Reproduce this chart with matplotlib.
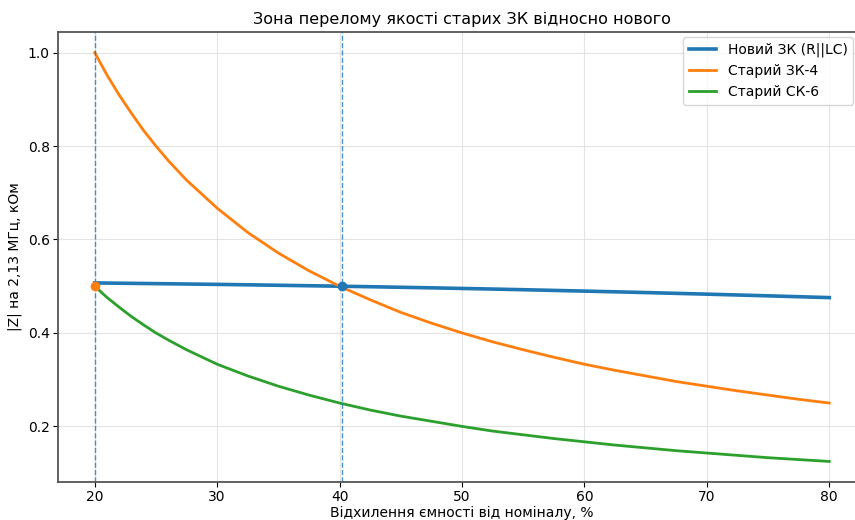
import matplotlib
matplotlib.use("Agg")
import matplotlib.pyplot as plt

# deviation of capacitance from nominal, %
deviation = [20, 21, 22, 23, 24, 25, 26, 27.5, 30, 32.5, 35, 37.5, 40, 42.5, 45,
             47.5, 50, 52.5, 55, 57.5, 60, 62.5, 65, 67.5, 70, 72.5, 75, 77.5, 80]

# |Z| at 2.13 MHz, kOhm
z_new = [0.5070, 0.5067, 0.5064, 0.5061, 0.5058, 0.5055, 0.5052, 0.5047, 0.5039, 0.5030,
         0.5020, 0.5010, 0.5000, 0.4989, 0.4977, 0.4965, 0.4952, 0.4939, 0.4925, 0.4910,
         0.4895, 0.4880, 0.4864, 0.4847, 0.4830, 0.4812, 0.4794, 0.4775, 0.4756]
z_old4 = [1.000, 0.952, 0.909, 0.870, 0.833, 0.800, 0.769, 0.727, 0.667, 0.615,
          0.571, 0.533, 0.500, 0.471, 0.444, 0.421, 0.400, 0.381, 0.364, 0.348,
          0.333, 0.320, 0.308, 0.296, 0.286, 0.276, 0.267, 0.258, 0.250]
z_old6 = [0.500, 0.476, 0.455, 0.435, 0.417, 0.400, 0.385, 0.364, 0.333, 0.308,
          0.286, 0.267, 0.250, 0.235, 0.222, 0.211, 0.200, 0.190, 0.182, 0.174,
          0.167, 0.160, 0.154, 0.148, 0.143, 0.138, 0.133, 0.129, 0.125]

labels = ["Новий ЗК (R||LC)", "Старий ЗК-4", "Старий СК-6"]

# break points
cross_x = [20, 40.2]
cross_y = [0.5, 0.5]

fig = plt.figure(figsize=(8.55, 5.2), dpi=100)
ax = fig.add_axes([58 / 855, 38 / 520, 808 / 855, 450 / 520])

ax.plot(deviation, z_new, color="tab:blue", linewidth=2.6, label=labels[0])
ax.plot(deviation, z_old4, color="tab:orange", linewidth=2.0, label=labels[1])
ax.plot(deviation, z_old6, color="tab:green", linewidth=2.0, label=labels[2])

for xv in cross_x:
    ax.axvline(xv, color="tab:blue", linestyle="--", linewidth=1.0, alpha=0.8)
ax.plot(cross_x[0], cross_y[0], "o", color="tab:orange", markersize=6)
ax.plot(cross_x[1], cross_y[1], "o", color="tab:blue", markersize=6)

ax.set_xlim(17, 83)
ax.set_ylim(0.081, 1.044)
ax.set_xticks([20, 30, 40, 50, 60, 70, 80])
ax.set_yticks([0.2, 0.4, 0.6, 0.8, 1.0])
ax.grid(True, color="#dddddd", linewidth=0.8, alpha=0.8)

for side in ["left", "bottom", "top", "right"]:
    ax.spines[side].set_color("#555555")
    ax.spines[side].set_linewidth(1.3)

ax.set_title("Зона перелому якості старих ЗК відносно нового", fontsize=11.5)
ax.set_xlabel("Відхилення ємності від номіналу, %", fontsize=10, labelpad=1)
ax.set_ylabel("|Z| на 2,13 МГц, кОм", fontsize=10)
ax.tick_params(labelsize=10, pad=2.5)

leg = ax.legend(loc="upper right", fontsize=10, bbox_to_anchor=(853 / 855, 1 - 37 / 520),
                bbox_transform=fig.transFigure, borderaxespad=0)

fig.savefig("out.png", dpi=100)
plt.close()
